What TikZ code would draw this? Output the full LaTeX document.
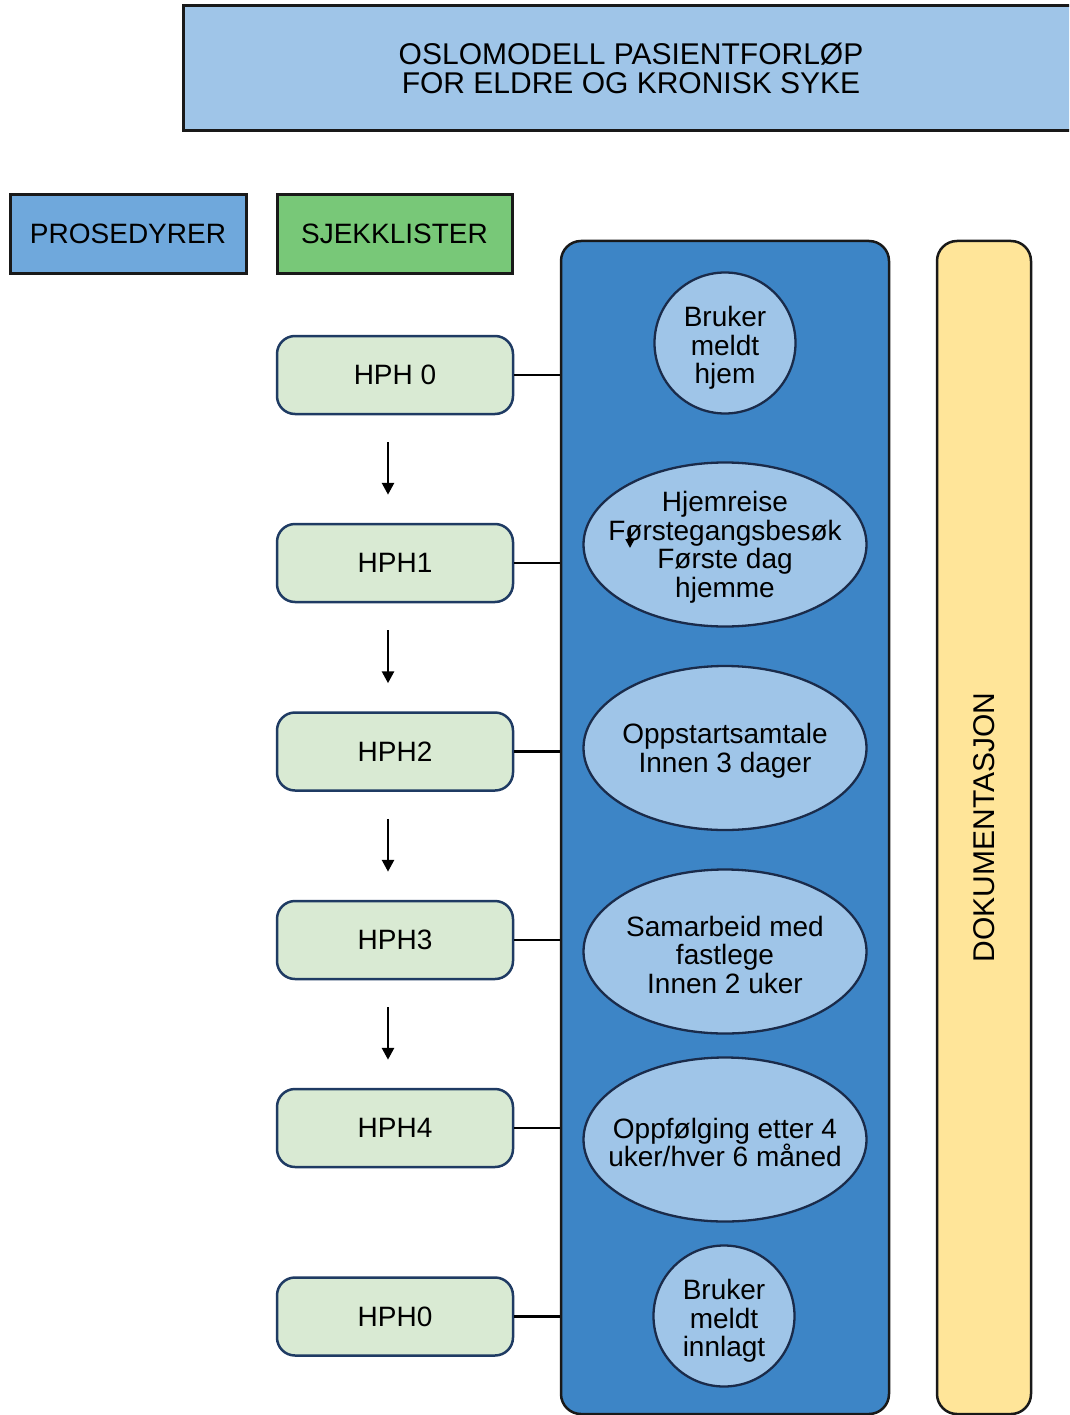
\documentclass[tikz,border=0pt]{standalone}
\usepackage{fontspec}
\setmainfont{Liberation Sans}
\usetikzlibrary{arrows.meta,shapes.geometric}
\definecolor{paleblue}{HTML}{9FC5E8}
\definecolor{procblue}{HTML}{6FA8DC}
\definecolor{checkgreen}{HTML}{78C878}
\definecolor{hphfill}{HTML}{D9EAD3}
\definecolor{hphline}{HTML}{1F3B63}
\definecolor{flowblue}{HTML}{3D85C6}
\definecolor{stageline}{HTML}{1A2B4A}
\definecolor{docyellow}{HTML}{FFE599}
\begin{document}
\begin{tikzpicture}[x=1pt,y=-1pt,
  txt/.style={font=\fontsize{28}{28.5}\selectfont, text=black, align=center, inner sep=0pt},
  headbox/.style={txt, draw=black!90, line width=3pt},
  hph/.style={txt, draw=hphline, fill=hphfill, line width=2.5pt, rounded corners=18pt,
              minimum width=236pt, minimum height=78pt},
  stagetext/.style={txt, label distance=0pt},
  stage/.style={ellipse, draw=stageline, fill=paleblue, line width=2.3pt, inner sep=0pt,
                minimum width=283pt, minimum height=164pt,
                label={[stagetext, yshift=-3pt]center:{#1}}},
  stagecirc/.style={circle, draw=stageline, fill=paleblue, line width=2.3pt, inner sep=0pt,
                    minimum size=141pt,
                    label={[stagetext, yshift=-5pt]center:{#1}}},
  column/.style={draw=black!90, line width=2.5pt, rounded corners=20pt, inner sep=0pt},
  link/.style={draw=black, line width=2.8pt},
  down/.style={draw=black, line width=2.8pt, -{Triangle[length=12pt,width=12pt]}}]
\clip (0,0) rectangle (1069,1415);

% title banner
\node[headbox, fill=paleblue, minimum width=896pt, minimum height=125pt,
      font=\fontsize{30}{29}\selectfont] (title) at (631,68)
  {OSLOMODELL PASIENTFORLØP\\FOR ELDRE OG KRONISK SYKE};

% legend boxes
\node[headbox, fill=procblue, minimum width=236pt, minimum height=78pt] (proc) at (128,234) {PROSEDYRER};
\node[headbox, fill=checkgreen, minimum width=235pt, minimum height=78pt] (check) at (394.5,234) {SJEKKLISTER};

% patient pathway column and documentation column
\node[column, fill=flowblue, minimum width=328pt, minimum height=1173pt] (flow) at (725,827.5) {};
\node[column, fill=docyellow, minimum width=1173pt, minimum height=94pt, rotate=90,
      font=\fontsize{30}{30}\selectfont] (doc) at (984,827.5) {DOKUMENTASJON};

% checklist steps
\node[hph] (h0) at (395,375) {HPH 0};
\node[hph] (h1) at (395,563) {HPH1};
\node[hph] (h2) at (395,751.5) {HPH2};
\node[hph] (h3) at (395,940) {HPH3};
\node[hph] (h4) at (395,1128) {HPH4};
\node[hph] (h5) at (395,1316.5) {HPH0};

% pathway stages
\node[stagecirc={Bruker\\meldt\\hjem}] (s0) at (725,343) {};
\node[stage={Hjemreise\\Førstegangsbesøk\\Første dag\\hjemme}] (s1) at (725,544.5) {};
\node[stage={Oppstartsamtale\\Innen 3 dager}] (s2) at (725,748) {};
\node[stage={Samarbeid med\\fastlege\\Innen 2 uker}] (s3) at (725,951.5) {};
\node[stage={Oppfølging etter 4\\uker/hver 6 måned}] (s4) at (725,1139.5) {};
\node[stagecirc={Bruker\\meldt\\innlagt}] (s5) at (724,1316) {};

% links from checklists to the pathway column
\foreach \h in {h0,h1,h2,h3,h4,h5}
  \draw[link] (\h.east) -- (flow.west |- \h.east);

% downward arrows between checklists
\foreach \a/\b in {h0/h1,h1/h2,h2/h3,h3/h4}
  \draw[down] ([shift={(-7pt,-27pt)}]\a.south) -- ([shift={(-7pt,28pt)}]\b.north);

% small stray arrow inside the second stage
\coordinate (stubA) at (630,528);
\coordinate (stubB) at (630,548);
\draw[draw=black, line width=1.8pt, -{Triangle[length=9pt,width=9pt]}] (stubA) -- (stubB);
\end{tikzpicture}
\end{document}
